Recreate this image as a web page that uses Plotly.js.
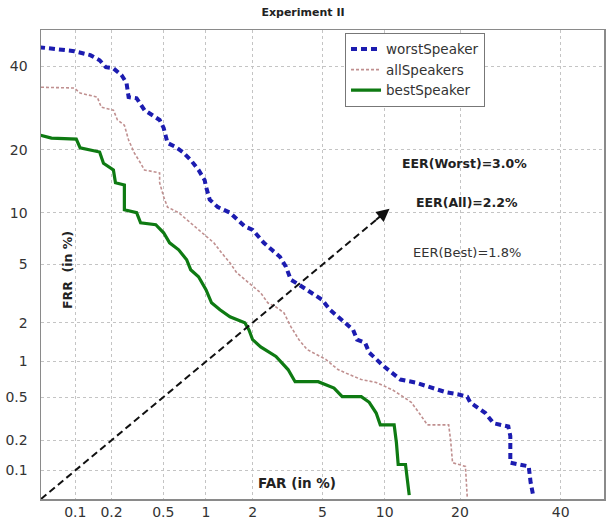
<!DOCTYPE html>
<html>
<head>
<meta charset="utf-8">
<script src="https://cdn.plot.ly/plotly-3.0.1.min.js"></script>
<style>html,body{margin:0;padding:0;background:#fff;}#chart{width:606px;height:522px;}</style>
</head>
<body>
<div id="chart"></div>
<script>
// ---- data (percent) ----
const tickValsPct = [0.1, 0.2, 0.5, 1, 2, 5, 10, 20, 40];
const xTickText = ["0.1", "0.2", "0.5", "1", "2", "5", "10", "20", "40"];
const yTickText = ["0.1", "0.2", "0.5", "1", "2", "5", "10", "20", "40"];
const axisRangePct = [0.05, 50];

const worstFAR = [0.048,0.079,0.098,0.134,0.16,0.18,0.207,0.24,0.263,0.273,0.315,0.362,0.41,0.47,0.503,0.537,0.614,0.69,0.785,0.89,0.98,1.0,1.06,1.2,1.44,1.79,2.0,2.12,2.34,2.61,2.91,3.15,3.36,3.73,4.13,4.97,5.47,6.0,7.13,7.45,8.13,8.5,9.94,11.7,13.5,16.6,17.9,19.6,21.2,21.7,24.4,25.9,28.8,29.2,29.2,33,33.4,34];
const worstFRR = [45.2,44.4,44.1,43,41.6,39.7,39.4,37.6,35.5,31.9,31.6,28.7,27.5,26.4,24.6,21.4,20.6,19.6,18.1,16.3,14.6,13.6,11.7,10.7,10.0,8.4,8.05,7.55,6.77,6.15,5.58,4.84,3.99,3.7,3.42,2.92,2.48,2.21,1.77,1.49,1.41,1.18,0.91,0.71,0.67,0.58,0.55,0.53,0.505,0.45,0.36,0.29,0.27,0.22,0.12,0.11,0.075,0.053];

const allFAR = [0.05,0.098,0.11,0.153,0.165,0.207,0.223,0.253,0.273,0.303,0.338,0.362,0.47,0.47,0.503,0.537,0.646,0.785,1.0,1.13,1.27,1.44,1.59,1.9,2.24,2.47,2.76,3.07,3.36,3.73,4.13,5.2,6.0,6.5,7.8,9.15,10.8,12.0,13.0,14.0,15.1,18.2,18.5,18.8,20.9,21.2];
const allFRR = [34.4,34.2,32.9,31.9,29.4,28.7,26.4,25.2,22,19.4,17.5,16.3,15.8,14.2,12.1,10.7,10.0,8.8,7.34,6.77,5.9,5.12,4.43,3.81,3.26,2.78,2.6,2.36,1.87,1.49,1.25,1.04,0.86,0.81,0.71,0.67,0.58,0.505,0.45,0.36,0.28,0.28,0.2,0.12,0.11,0.053];

const bestFAR = [0.048,0.062,0.102,0.11,0.16,0.172,0.207,0.215,0.215,0.253,0.253,0.315,0.338,0.44,0.503,0.556,0.646,0.736,0.785,0.89,1.0,1.09,1.24,1.44,1.79,1.9,2.0,2.24,2.76,3.24,3.55,4.74,5.73,6.3,7.8,8.5,9.15,9.55,11.0,11.25,11.45,12.3,12.75];
const bestFRR = [23.1,22.4,22.2,20.4,19.6,17.5,16.3,14.6,14.2,13.85,10.35,10.0,8.8,8.6,7.74,6.77,6.15,5.35,4.63,4.17,3.42,2.78,2.48,2.21,2.0,1.77,1.49,1.31,1.1,0.86,0.68,0.68,0.6,0.505,0.505,0.45,0.36,0.28,0.28,0.19,0.115,0.115,0.055];

const eerLinePct = [0.05, 10];
const eerLabels = ["EER(Worst)=3.0%", "EER(All)=2.2%", "EER(Best)=1.8%"];

// ---- probit (normal deviate) scale ----
function probit(p){
  const a=[-3.969683028665376e+01,2.209460984245205e+02,-2.759285104469687e+02,1.383577518672690e+02,-3.066479806614716e+01,2.506628277459239e+00];
  const b=[-5.447609879822406e+01,1.615858368580409e+02,-1.556989798598866e+02,6.680131188771972e+01,-1.328068155288572e+01];
  const c=[-7.784894002430293e-03,-3.223964580411365e-01,-2.400758277161838e+00,-2.549732539343734e+00,4.374664141464968e+00,2.938163982698783e+00];
  const d=[7.784695709041462e-03,3.224671290700398e-01,2.445134137142996e+00,3.754408661907416e+00];
  const plow=0.02425, phigh=1-plow;
  let q,r;
  if(p<plow){q=Math.sqrt(-2*Math.log(p));return (((((c[0]*q+c[1])*q+c[2])*q+c[3])*q+c[4])*q+c[5])/((((d[0]*q+d[1])*q+d[2])*q+d[3])*q+1);}
  if(p<=phigh){q=p-0.5;r=q*q;return (((((a[0]*r+a[1])*r+a[2])*r+a[3])*r+a[4])*r+a[5])*q/(((((b[0]*r+b[1])*r+b[2])*r+b[3])*r+b[4])*r+1);}
  q=Math.sqrt(-2*Math.log(1-p));return -(((((c[0]*q+c[1])*q+c[2])*q+c[3])*q+c[4])*q+c[5])/((((d[0]*q+d[1])*q+d[2])*q+d[3])*q+1);
}
const P = arr => arr.map(v => probit(v/100));

const FONT = "DejaVu Sans, Arial, sans-serif";

const traces = [
  {x:P(worstFAR), y:P(worstFRR), mode:'lines', name:'worstSpeaker',
   line:{color:'#1c1cb0', width:4, dash:'6px,4px'}},
  {x:P(allFAR), y:P(allFRR), mode:'lines', name:'allSpeakers',
   line:{color:'#c09090', width:1.6, dash:'3px,2px'}},
  {x:P(bestFAR), y:P(bestFRR), mode:'lines', name:'bestSpeaker',
   line:{color:'#0e7a12', width:3.2}},
  {x:P(eerLinePct), y:P(eerLinePct), mode:'lines', showlegend:false, hoverinfo:'skip',
   line:{color:'#111', width:2, dash:'7px,4px'}}
];

const rng = P(axisRangePct);
const gridAxis = {
  type:'linear', range:rng, tickmode:'array', tickvals:P(tickValsPct),
  showgrid:true, gridcolor:'#c4c4c4', griddash:'dot', gridwidth:1,
  zeroline:false, showline:true, mirror:true, linecolor:'#8a8a8a', linewidth:1.5,
  ticks:'', tickfont:{family:FONT, size:14, color:'#333'}
};

const tip = P([10.5])[0], tail = P([9])[0];

const layout = {
  width:606, height:522,
  margin:{l:41, r:2, t:30, b:23},
  paper_bgcolor:'#fff', plot_bgcolor:'#fff',
  title:{text:'<b>Experiment II</b>', font:{family:FONT, size:11, color:'#222'},
         x:0.5, xanchor:'center', y:0.977, yanchor:'middle', xref:'container', yref:'container'},
  xaxis:Object.assign({}, gridAxis, {ticktext:xTickText}),
  yaxis:Object.assign({}, gridAxis, {ticktext:yTickText, ticklabelstandoff:9}),
  showlegend:true,
  legend:{x:0.54, y:0.994, xanchor:'left', yanchor:'top', bgcolor:'#fff',
          bordercolor:'#777', borderwidth:1, font:{family:FONT, size:13.5, color:'#333'},
          tracegroupgap:0, itemwidth:30},
  annotations:[
    {x:tip, y:tip, xref:'x', yref:'y', ax:tail, ay:tail, axref:'x', ayref:'y',
     text:'', showarrow:true, arrowhead:2, arrowsize:1.3, arrowwidth:2, arrowcolor:'#111'},
    {text:'<b>'+eerLabels[0]+'</b>', xref:'paper', yref:'paper', x:0.753, y:0.716, showarrow:false,
     xanchor:'center', yanchor:'middle', font:{family:FONT, size:12.5, color:'#222'}},
    {text:'<b>'+eerLabels[1]+'</b>', xref:'paper', yref:'paper', x:0.757, y:0.633, showarrow:false,
     xanchor:'center', yanchor:'middle', font:{family:FONT, size:12.5, color:'#222'}},
    {text:eerLabels[2], xref:'paper', yref:'paper', x:0.757, y:0.525, showarrow:false,
     xanchor:'center', yanchor:'middle', font:{family:FONT, size:13, color:'#333'}},
    {text:'<b>FRR  (in %)</b>', xref:'paper', yref:'paper', x:0.046, y:0.488, showarrow:false,
     xanchor:'center', yanchor:'middle', textangle:-90, font:{family:FONT, size:12.5, color:'#222'}},
    {text:'<b>FAR (in %)</b>', xref:'paper', yref:'paper', x:0.455, y:0.034, showarrow:false,
     xanchor:'center', yanchor:'middle', font:{family:FONT, size:13.5, color:'#222'}}
  ]
};

Plotly.newPlot('chart', traces, layout, {displayModeBar:false, staticPlot:true});
</script>
</body>
</html>
